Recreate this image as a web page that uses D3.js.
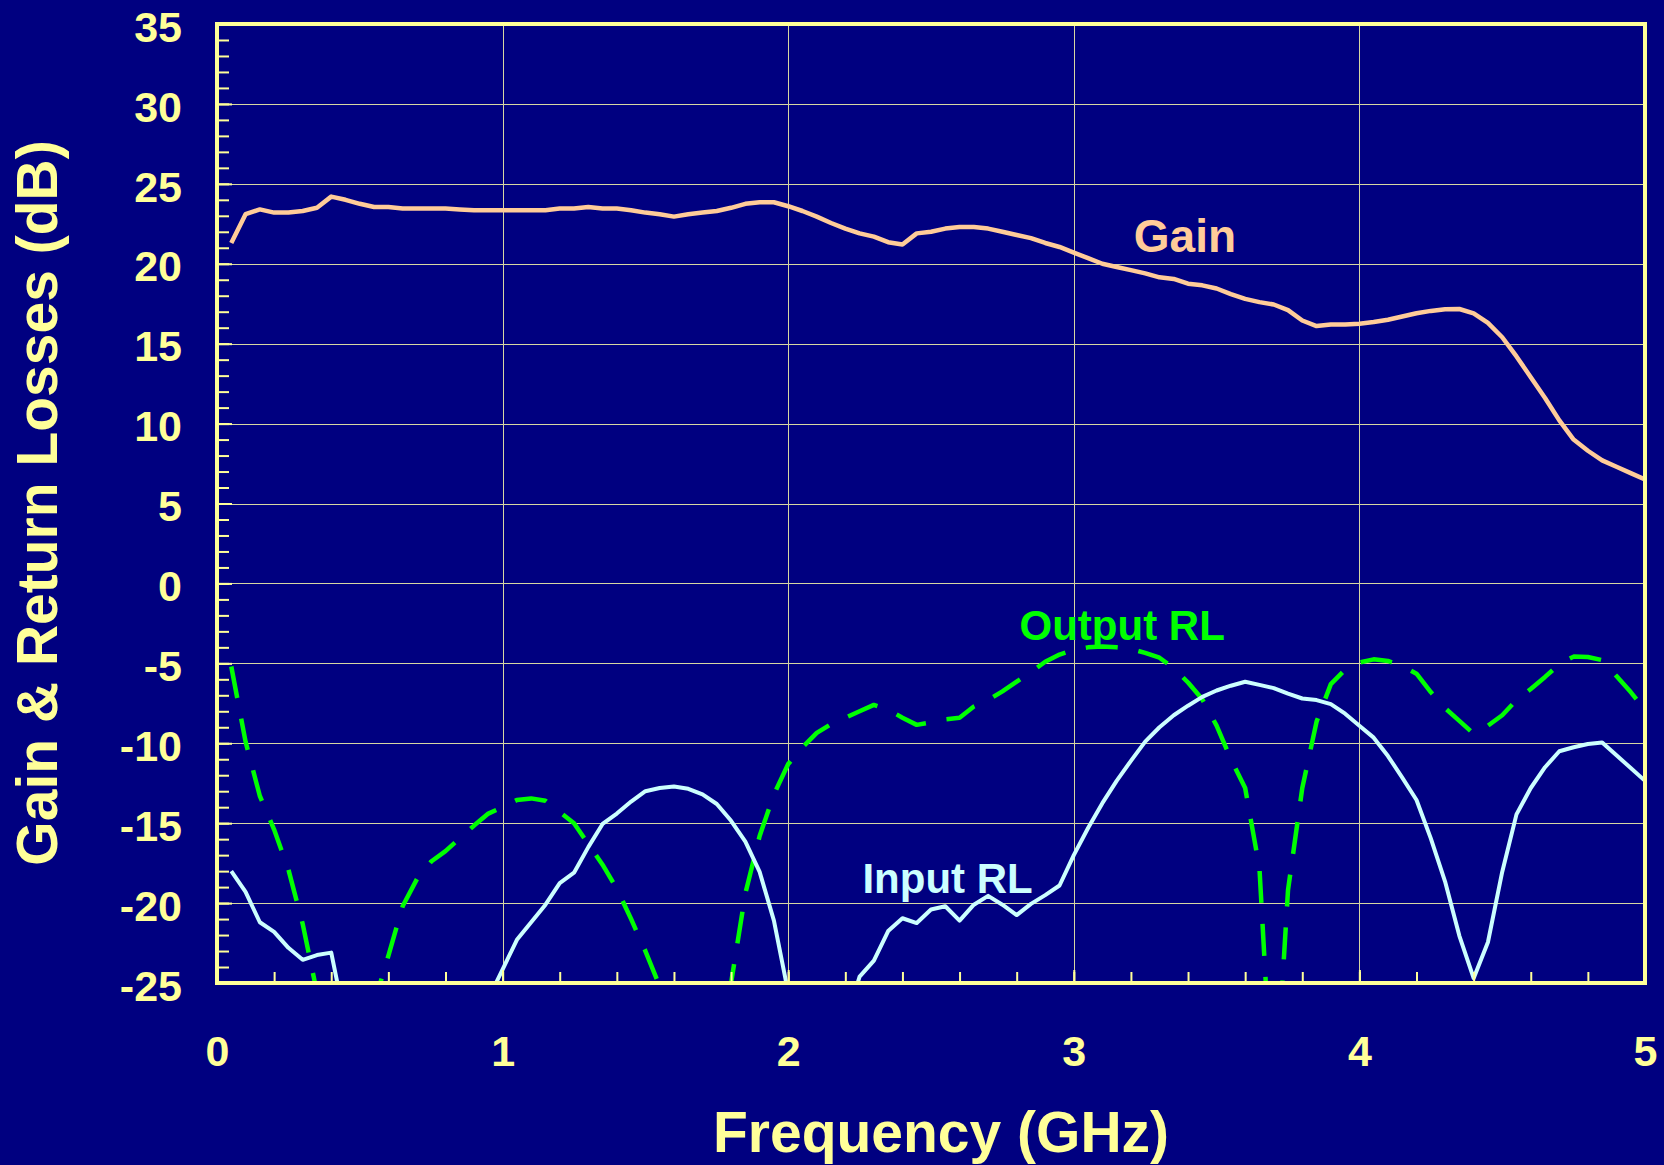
<!DOCTYPE html>
<html>
<head>
<meta charset="utf-8">
<script src="https://cdn.jsdelivr.net/npm/d3@7"></script>
<style>
  html, body { margin: 0; padding: 0; background: #000080; }
  svg { display: block; }
</style>
</head>
<body>
<div id="chart"></div>
<script>
'use strict';

// Gain (dB) vs frequency (GHz)
var gainFreq = [0.05, 0.10, 0.15, 0.20, 0.25, 0.30, 0.35, 0.40, 0.45, 0.50, 0.55, 0.60, 0.65, 0.70, 0.75, 0.80, 0.85, 0.90, 0.95, 1.00,
  1.05, 1.10, 1.15, 1.20, 1.25, 1.30, 1.35, 1.40, 1.45, 1.50, 1.55, 1.60, 1.65, 1.70, 1.75, 1.80, 1.85, 1.90, 1.95, 2.00,
  2.05, 2.10, 2.15, 2.20, 2.25, 2.30, 2.35, 2.40, 2.45, 2.50, 2.55, 2.60, 2.65, 2.70, 2.75, 2.80, 2.85, 2.90, 2.95, 3.00,
  3.05, 3.10, 3.15, 3.20, 3.25, 3.30, 3.35, 3.40, 3.45, 3.50, 3.55, 3.60, 3.65, 3.70, 3.75, 3.80, 3.85, 3.90, 3.95, 4.00,
  4.05, 4.10, 4.15, 4.20, 4.25, 4.30, 4.35, 4.40, 4.45, 4.50, 4.55, 4.60, 4.65, 4.70, 4.75, 4.80, 4.85, 4.90, 4.95, 5.00];
var gainDb = [21.3, 23.1, 23.4, 23.2, 23.2, 23.3, 23.5, 24.2, 24.0, 23.75, 23.55, 23.55, 23.45, 23.45, 23.45, 23.45, 23.4, 23.35, 23.35, 23.35,
  23.35, 23.35, 23.35, 23.45, 23.45, 23.55, 23.45, 23.45, 23.35, 23.2, 23.1, 22.95, 23.1, 23.2, 23.3, 23.5, 23.75, 23.85, 23.85, 23.6,
  23.3, 22.95, 22.55, 22.2, 21.9, 21.7, 21.35, 21.2, 21.9, 22.0, 22.2, 22.3, 22.3, 22.2, 22.0, 21.8, 21.6, 21.3, 21.05, 20.7,
  20.35, 20.0, 19.8, 19.6, 19.4, 19.15, 19.05, 18.75, 18.65, 18.45, 18.1, 17.8, 17.6, 17.45, 17.1, 16.45, 16.1, 16.2, 16.2, 16.25,
  16.35, 16.5, 16.7, 16.9, 17.05, 17.15, 17.17, 16.9, 16.3, 15.4, 14.2, 12.9, 11.6, 10.2, 9.0, 8.3, 7.7, 7.3, 6.9, 6.5];

// Input return loss (dB); points below -25 fall outside the plot and are clipped
var inFreq = [0.05, 0.10, 0.15, 0.20, 0.25, 0.30, 0.35, 0.40, 0.45, 0.95,
  1.05, 1.10, 1.15, 1.20, 1.25, 1.30, 1.35, 1.40, 1.45, 1.50, 1.55, 1.60, 1.65, 1.70, 1.75, 1.80, 1.85, 1.90, 1.95, 2.00,
  2.20, 2.25, 2.30, 2.35, 2.40, 2.45, 2.50, 2.55, 2.60, 2.65, 2.70, 2.75, 2.80, 2.85, 2.90, 2.95, 3.00,
  3.05, 3.10, 3.15, 3.20, 3.25, 3.30, 3.35, 3.40, 3.45, 3.50, 3.55, 3.60, 3.65, 3.70, 3.75, 3.80, 3.85, 3.90, 3.95, 4.00,
  4.05, 4.10, 4.15, 4.20, 4.25, 4.30, 4.35, 4.40, 4.45, 4.50, 4.55, 4.60, 4.65, 4.70, 4.75, 4.80, 4.85, 4.90, 4.95, 5.00];
var inDb = [-18.0, -19.3, -21.2, -21.8, -22.8, -23.55, -23.25, -23.1, -27.5, -26.0,
  -22.3, -21.2, -20.1, -18.75, -18.1, -16.5, -15.05, -14.4, -13.65, -13.0, -12.8, -12.7, -12.85, -13.2, -13.8, -14.85, -16.15, -18.05, -21.1, -25.6,
  -27.5, -24.6, -23.6, -21.75, -20.95, -21.25, -20.4, -20.2, -21.1, -20.1, -19.55, -20.1, -20.75, -20.05, -19.5, -18.9, -17.0,
  -15.3, -13.75, -12.35, -11.1, -9.9, -9.0, -8.25, -7.65, -7.1, -6.7, -6.4, -6.15, -6.35, -6.55, -6.9, -7.2, -7.3, -7.55, -8.15, -8.9,
  -9.65, -10.8, -12.15, -13.55, -15.95, -18.65, -22.05, -24.7, -22.45, -18.05, -14.45, -12.8, -11.5, -10.5, -10.25, -10.05, -9.95, -10.75, -11.55, -12.35];

// Output return loss (dB)
var outFreq = [0.05, 0.10, 0.15, 0.20, 0.25, 0.30, 0.35, 0.40, 0.55, 0.60, 0.65, 0.70, 0.75, 0.80, 0.85, 0.90, 0.95, 1.00,
  1.05, 1.10, 1.15, 1.20, 1.25, 1.30, 1.35, 1.40, 1.45, 1.50, 1.55, 1.60, 1.75, 1.80, 1.85, 1.90, 1.95, 2.00,
  2.05, 2.10, 2.15, 2.20, 2.25, 2.30, 2.35, 2.40, 2.45, 2.50, 2.55, 2.60, 2.65, 2.70, 2.75, 2.80, 2.85, 2.90, 2.95, 3.00,
  3.05, 3.10, 3.15, 3.20, 3.25, 3.30, 3.35, 3.40, 3.45, 3.50, 3.55, 3.60, 3.65, 3.70, 3.75, 3.80, 3.85, 3.90, 3.95, 4.00,
  4.05, 4.10, 4.15, 4.20, 4.25, 4.30, 4.35, 4.40, 4.45, 4.50, 4.55, 4.60, 4.65, 4.70, 4.75, 4.80, 4.85, 4.90, 4.95, 5.00];
var outDb = [-5.2, -9.9, -13.3, -15.4, -17.9, -21.3, -25.6, -30.0, -26.3, -23.3, -20.2, -18.5, -17.4, -16.75, -15.95, -15.15, -14.4, -14.0,
  -13.55, -13.45, -13.6, -14.3, -15.0, -16.3, -17.6, -19.1, -21.0, -23.0, -25.2, -28.5, -32.0, -25.0, -19.4, -15.8, -13.2, -11.3,
  -10.25, -9.35, -8.8, -8.4, -8.0, -7.6, -7.9, -8.4, -8.85, -8.7, -8.5, -8.4, -7.7, -7.3, -6.75, -6.15, -5.55, -4.9, -4.45, -4.15,
  -4.0, -3.95, -4.0, -4.1, -4.35, -4.65, -5.3, -6.2, -7.25, -8.9, -11.0, -12.8, -17.8, -34.0, -19.2, -12.8, -8.65, -6.3, -5.4, -4.95,
  -4.75, -4.85, -5.15, -5.65, -6.8, -7.8, -8.6, -9.4, -8.9, -8.25, -7.3, -6.6, -5.85, -5.05, -4.58, -4.6, -4.8, -5.8, -6.8, -7.9];

var xTicks = [0, 1, 2, 3, 4, 5];
var yTicks = [-25, -20, -15, -10, -5, 0, 5, 10, 15, 20, 25, 30, 35];
var seriesLabels = ['Gain', 'Output RL', 'Input RL'];
var labelFreq = [3.21, 2.81, 2.26];
var labelDb = [20.75, -3.56, -19.4];

var W = 1664, H = 1165;
var plotLeft = 217, plotRight = 1645, plotTop = 24, plotBottom = 983;
var axisColor = '#ffff99';
var font = '"Liberation Sans", Arial, Helvetica, sans-serif';

var svg = d3.select('#chart').append('svg')
  .attr('width', W).attr('height', H)
  .attr('viewBox', [0, 0, W, H]);

svg.append('rect').attr('width', W).attr('height', H).attr('fill', '#000080');

var x = d3.scaleLinear().domain([0, 5]).range([plotLeft, plotRight]);
var y = d3.scaleLinear().domain([-25, 35]).range([plotBottom, plotTop]);

// grid
var grid = svg.append('g').attr('stroke', '#d6d6a2').attr('stroke-width', 1);
grid.selectAll('line.h').data(yTicks.filter(function (v) { return v > -25 && v < 35; }))
  .join('line').attr('class', 'h')
  .attr('x1', plotLeft).attr('x2', plotRight)
  .attr('y1', function (d) { return Math.round(y(d)) + 0.5; })
  .attr('y2', function (d) { return Math.round(y(d)) + 0.5; });
grid.selectAll('line.v').data(xTicks.filter(function (v) { return v > 0 && v < 5; }))
  .join('line').attr('class', 'v')
  .attr('y1', plotTop).attr('y2', plotBottom)
  .attr('x1', function (d) { return Math.round(x(d)) + 0.5; })
  .attr('x2', function (d) { return Math.round(x(d)) + 0.5; });

// series
svg.append('clipPath').attr('id', 'plot-clip')
  .append('rect').attr('x', plotLeft).attr('y', plotTop)
  .attr('width', plotRight - plotLeft).attr('height', plotBottom - plotTop);

var line = d3.line()
  .x(function (d) { return x(d[0]); })
  .y(function (d) { return y(d[1]); });

var plot = svg.append('g').attr('clip-path', 'url(#plot-clip)').attr('fill', 'none')
  .attr('stroke-linejoin', 'round');

plot.append('path')
  .attr('d', line(d3.zip(outFreq, outDb)))
  .attr('stroke', '#00ff00').attr('stroke-width', 4.5)
  .attr('stroke-dasharray', '32,21');

plot.append('path')
  .attr('d', line(d3.zip(inFreq, inDb)))
  .attr('stroke', '#ccffff').attr('stroke-width', 4);

plot.append('path')
  .attr('d', line(d3.zip(gainFreq, gainDb)))
  .attr('stroke', '#ffcc99').attr('stroke-width', 4.5);

// axes: minor ticks, then major ticks with labels
var xMinor = svg.append('g').attr('transform', 'translate(0,' + plotBottom + ')')
  .call(d3.axisBottom(x).tickValues(d3.range(0.2, 5, 0.2)).tickSize(-11).tickFormat(''));
var xMajor = svg.append('g').attr('transform', 'translate(0,' + plotBottom + ')')
  .call(d3.axisBottom(x).tickValues(xTicks).tickSize(-13).tickPadding(52).tickFormat(d3.format('d')));
var yMinor = svg.append('g').attr('transform', 'translate(' + plotLeft + ',0)')
  .call(d3.axisLeft(y).tickValues(d3.range(-24, 35, 1)).tickSize(-12).tickFormat(''));
var yMajor = svg.append('g').attr('transform', 'translate(' + plotLeft + ',0)')
  .call(d3.axisLeft(y).tickValues(yTicks).tickSize(-15).tickPadding(35)
    .tickFormat(function (d) { return d < 0 ? '-' + Math.abs(d) : String(d); }));

[xMinor, xMajor, yMinor, yMajor].forEach(function (g) {
  g.select('.domain').remove();
  g.selectAll('.tick line').attr('stroke', axisColor).attr('stroke-width', 2);
  g.selectAll('.tick text')
    .attr('fill', axisColor)
    .attr('font-family', font)
    .attr('font-weight', 'bold')
    .attr('font-size', 43);
});
yMajor.selectAll('.tick text').attr('dy', '0.4em');

// plot frame
svg.append('rect')
  .attr('x', plotLeft).attr('y', plotTop)
  .attr('width', plotRight - plotLeft).attr('height', plotBottom - plotTop)
  .attr('fill', 'none').attr('stroke', axisColor).attr('stroke-width', 4);

// axis titles
svg.append('text')
  .attr('x', 941).attr('y', 1152)
  .attr('text-anchor', 'middle')
  .attr('fill', axisColor).attr('font-family', font).attr('font-weight', 'bold').attr('font-size', 57)
  .text('Frequency (GHz)');

svg.append('text')
  .attr('transform', 'translate(57,503) rotate(-90)')
  .attr('text-anchor', 'middle')
  .attr('fill', axisColor).attr('font-family', font).attr('font-weight', 'bold').attr('font-size', 57)
  .text('Gain & Return Losses (dB)');

// series labels
var labelColors = ['#ffcc99', '#00ff00', '#ccffff'];
var labelSizes = [46, 42, 42];
svg.append('g').selectAll('text')
  .data(seriesLabels)
  .join('text')
  .attr('x', function (d, i) { return x(labelFreq[i]); })
  .attr('y', function (d, i) { return y(labelDb[i]); })
  .attr('fill', function (d, i) { return labelColors[i]; })
  .attr('font-family', font).attr('font-weight', 'bold')
  .attr('font-size', function (d, i) { return labelSizes[i]; })
  .text(function (d) { return d; });
</script>
</body>
</html>
